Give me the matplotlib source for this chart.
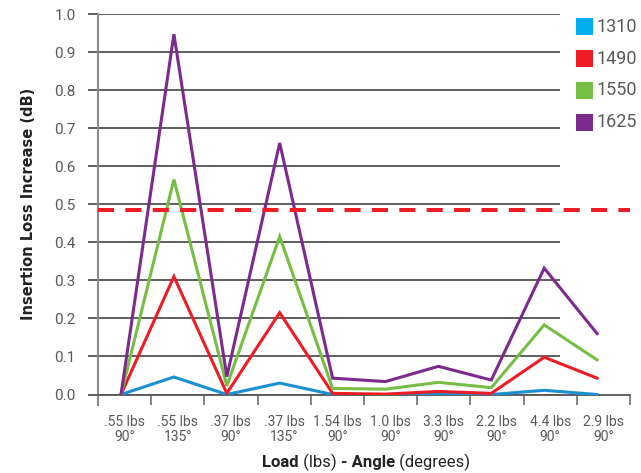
import matplotlib
matplotlib.use("Agg")
import matplotlib.pyplot as plt
from matplotlib.patches import Rectangle
from matplotlib.lines import Line2D
from matplotlib.offsetbox import TextArea, HPacker, AnchoredOffsetbox

# Données
categories = [".55 lbs\n90°", ".55 lbs\n135°", ".37 lbs\n90°", ".37 lbs\n135°", "1.54 lbs\n90°",
              "1.0 lbs\n90°", "3.3 lbs\n90°", "2.2 lbs\n90°", "4.4 lbs\n90°", "2.9 lbs\n90°"]
serie_1310 = [0.0, 0.046, 0.0, 0.030, 0.0, 0.0, 0.003, 0.0, 0.011, 0.0]
serie_1490 = [0.0, 0.310, 0.003, 0.215, 0.003, 0.001, 0.008, 0.003, 0.098, 0.043]
serie_1550 = [0.0, 0.565, 0.023, 0.415, 0.016, 0.014, 0.032, 0.018, 0.183, 0.091]
serie_1625 = [0.0, 0.947, 0.047, 0.661, 0.043, 0.034, 0.074, 0.038, 0.332, 0.160]
seuil = 0.486
noms = ["1310", "1490", "1550", "1625"]

couleurs_lignes = ["#1a90d4", "#ee1c25", "#76bf44", "#7d2a8e"]
couleurs_legende = ["#00aeef", "#ee1c25", "#76bf44", "#7d2a8e"]

police = "Roboto"
gris = "#5a5a5a"

fig = plt.figure(figsize=(6.41, 4.73), dpi=100)
W, H = 641, 473
ax = fig.add_axes([98 / W, (H - 394.5) / H, 532 / W, (394.5 - 14) / H])

x = list(range(len(categories)))
for serie, couleur in zip([serie_1310, serie_1490, serie_1550, serie_1625], couleurs_lignes):
    ax.plot(x, serie, color=couleur, lw=2.2, solid_joinstyle="miter", zorder=3)

x_min, x_max = -0.435, 9.622
pas = (x_max - x_min) / len(categories)
ax.set_xlim(x_min, x_max)
ax.set_ylim(0, 1.0)

# Grille horizontale qui s'arrête avant la légende
yticks = [i / 10 for i in range(11)]
ax.hlines(yticks, x_min, 8.30, color="#333333", lw=1.1, zorder=1)
ax.axhline(seuil, color="#ee1c25", lw=2.9, dashes=(4, 2.8), zorder=4)

ax.set_yticks(yticks)
ax.set_yticklabels([f"{v:.1f}" for v in yticks], fontfamily=police, fontsize=11, color=gris)
ax.tick_params(axis="y", direction="out", length=7, width=1.1, color="#333333", pad=9)

bornes = [x_min + k * pas for k in range(len(categories) + 1)]
centres = [x_min + (k + 0.5) * pas for k in range(len(categories))]
ax.set_xticks(bornes, minor=True)
ax.set_xticks(centres)
ax.set_xticklabels(categories, fontfamily=police, fontsize=10, color=gris, linespacing=1.05)
ax.tick_params(axis="x", which="major", length=0, pad=15)
ax.tick_params(axis="x", which="minor", direction="out", length=7.5, width=1.3, color="#7a7a7a")

for cote in ["top", "right"]:
    ax.spines[cote].set_visible(False)
ax.spines["left"].set_color("#8a8a8a")
ax.spines["left"].set_linewidth(1.5)
ax.spines["bottom"].set_color("#555555")
ax.spines["bottom"].set_linewidth(1.3)
ax.add_line(Line2D([0, 0], [0, -10 / 380], transform=ax.transAxes, color="#8a8a8a",
                   lw=1.5, clip_on=False))

ax.set_ylabel("Insertion Loss Increase (dB)", fontsize=10.5, fontweight="bold", color="#222222")
ax.yaxis.set_label_coords(-(98 - 36) / 532, 0.5)

# Titre de l'axe x : parties en gras et en normal
morceaux = [("Load", "bold"), (" (lbs) ", "normal"), ("- Angle", "bold"), (" (degrees)", "normal")]
zones = [TextArea(t, textprops=dict(fontsize=12, fontweight=w, color="#222222", fontfamily=police))
         for t, w in morceaux]
pack = HPacker(children=zones, pad=0, sep=0, align="baseline")
boite = AnchoredOffsetbox(loc="center", child=pack, frameon=False,
                          bbox_to_anchor=(366 / W, 1 - 462 / H), bbox_transform=fig.transFigure,
                          borderpad=0, pad=0)
fig.add_artist(boite)

# Légende à droite de la grille
for i, (nom, couleur) in enumerate(zip(noms, couleurs_legende)):
    yc = 27 + i * 31.7
    fig.add_artist(Rectangle((576 / W, 1 - (yc + 8.5) / H), 17 / W, 17 / H,
                             transform=fig.transFigure, facecolor=couleur, edgecolor="none"))
    fig.text(597 / W, 1 - yc / H, nom, fontsize=13, fontfamily=police, color=gris,
             va="center", ha="left")

fig.savefig("out.png", dpi=100)
